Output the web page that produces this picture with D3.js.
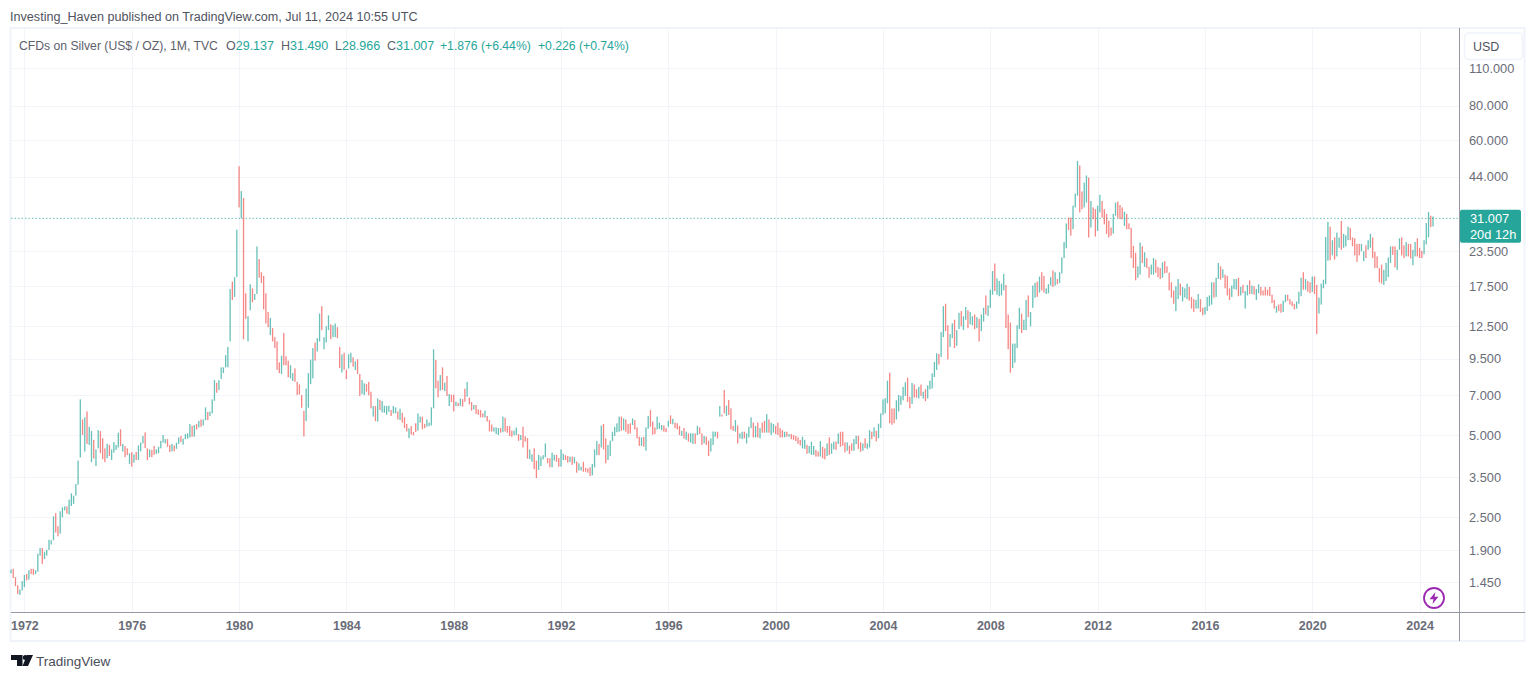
<!DOCTYPE html>
<html><head><meta charset="utf-8"><title>Silver</title>
<script src="https://cdn.jsdelivr.net/npm/d3@7/dist/d3.min.js"></script>
<style>html,body{margin:0;padding:0;background:#fff;overflow:hidden}svg{display:block}text{font-family:"Liberation Sans",Arial,sans-serif}</style>
</head><body><svg id="c" width="1536" height="679"></svg>
<script>
const firstYear = 1971, firstMonth = 6;
const yearTicks = [1972,1976,1980,1984,1988,1992,1996,2000,2004,2008,2012,2016,2020,2024];
const priceTicks = [110,80,60,44,23.5,17.5,12.5,9.5,7,5,3.5,2.5,1.9,1.45];
const lastClose = 31.007;
const highs = [
1.61,1.62,1.51,1.41,1.36,1.46,1.54,1.55,1.60,1.62,1.62,1.60,
1.84,1.93,1.93,1.87,1.90,2.07,2.06,2.52,2.59,2.32,2.63,2.72,
2.74,2.74,2.90,3.06,3.00,3.31,4.03,6.75,5.70,5.80,6.10,5.36,
5.17,4.80,4.43,5.21,5.17,4.86,4.47,4.64,4.60,4.43,4.71,4.60,
5.10,5.25,4.64,4.56,4.47,4.29,4.33,4.25,4.33,4.58,4.69,4.96,
5.11,4.47,4.43,4.41,4.56,4.43,4.53,4.76,5.00,4.83,4.83,4.60,
4.64,4.58,4.69,4.90,4.96,4.85,5.04,5.07,5.49,5.40,5.44,5.49,
5.63,5.70,5.70,6.31,6.07,6.09,6.75,7.94,7.76,7.94,8.84,8.84,
9.80,10.5,17.1,18.2,18.9,28.2,48.1,39.0,36.8,16.5,13.6,17.8,
17.2,16.4,24.5,22.0,19.7,19.1,16.5,14.1,13.4,12.3,11.4,11.0,
9.22,9.75,11.8,9.70,9.35,9.0,8.42,8.76,7.83,7.66,7.0,6.13,
7.40,8.42,9.43,10.4,10.9,11.3,13.9,14.8,11.4,12.5,13.7,12.7,
12.6,12.8,12.4,10.5,9.85,10.0,8.66,9.87,10.0,9.62,9.30,9.46,
8.36,7.95,7.73,7.68,7.82,7.2,6.38,6.38,6.8,6.72,6.66,6.4,
6.38,6.4,6.17,6.38,6.31,6.1,6.24,6.03,5.8,5.49,5.29,5.39,
5.13,5.52,6.0,5.84,5.84,5.49,5.7,5.55,6.31,10.3,9.41,7.9,
8.29,8.84,7.77,8.22,7.06,7.02,7.02,6.62,6.56,6.8,6.76,7.38,
7.82,6.85,6.6,6.44,6.44,6.2,6.17,6.0,6.14,5.87,5.67,5.46,
5.33,5.33,5.3,5.3,5.84,5.78,5.39,5.39,5.19,5.19,5.33,5.04,
5.0,5.36,4.95,4.87,4.43,4.25,4.47,4.03,4.23,4.17,4.22,4.66,
4.12,4.11,4.31,4.23,4.23,4.12,4.43,4.27,4.22,4.19,4.17,4.17,
4.15,4.0,3.94,3.83,3.99,3.79,3.77,3.81,3.92,4.43,4.76,4.64,
5.41,5.49,4.86,4.6,4.77,5.14,5.36,5.52,5.84,5.84,5.75,5.7,
5.49,5.52,5.75,5.67,5.33,4.93,4.9,4.93,5.33,5.87,6.17,5.6,
5.33,5.84,5.55,5.44,5.42,5.3,5.64,5.9,5.73,5.55,5.52,5.4,
5.18,5.3,5.14,5.07,5.07,5.07,5.07,5.4,5.33,5.07,4.96,4.93,
4.77,4.86,5.15,5.14,5.14,6.38,5.94,7.3,6.4,6.71,6.26,5.4,
5.67,5.42,5.07,5.14,5.14,5.07,5.36,5.8,5.55,5.4,5.55,5.3,
5.55,5.63,5.96,5.7,5.55,5.49,5.4,5.55,5.3,5.21,5.14,5.14,
5.04,5.04,5.0,4.96,4.9,4.8,4.93,4.8,4.6,4.56,4.73,4.56,
4.41,4.35,4.75,4.53,4.47,4.66,4.9,4.66,4.73,4.73,5.07,5.14,
5.14,4.7,4.7,4.57,4.66,4.83,4.97,4.97,4.7,4.66,4.86,4.66,
5.21,5.14,5.33,5.18,5.5,6.0,6.75,6.82,7.9,8.45,6.25,6.26,
6.7,7.0,6.95,7.5,7.8,8.1,6.9,7.75,7.65,7.35,7.5,7.65,
7.2,7.35,7.6,7.9,8.4,9.25,9.95,9.9,11.9,14.8,15.1,12.6,
11.7,12.8,13.2,12.1,14.0,14.2,13.6,14.7,14.3,14.1,13.6,13.8,
13.5,13.3,13.8,14.6,16.2,14.9,17.0,19.9,21.2,18.7,18.3,17.9,
19.4,17.7,13.8,12.9,10.8,10.8,12.6,14.6,13.9,13.2,15.6,16.2,
14.1,17.6,18.0,18.2,19.0,19.7,19.1,17.2,17.8,18.9,20.0,19.7,
18.6,19.7,22.3,25.4,29.7,31.2,31.2,34.5,38.2,50.3,48.4,38.9,
41.9,44.5,43.7,35.9,34.0,33.5,34.5,37.8,35.9,33.5,32.2,30.4,
28.7,32.2,35.4,35.7,34.7,34.0,32.8,32.2,29.7,28.6,24.6,23.2,
20.7,25.3,24.5,23.3,22.2,20.6,21.0,22.2,21.9,20.6,20.4,21.4,
21.6,20.7,19.6,18.1,16.9,17.5,18.6,17.9,17.4,17.2,17.9,17.4,
16.0,15.7,15.6,16.4,15.7,14.6,14.7,16.0,16.2,18.1,18.1,18.8,
21.3,20.7,20.2,19.3,19.1,17.2,17.6,18.6,18.6,18.8,17.4,17.7,
16.8,17.7,18.4,17.6,17.5,17.1,17.8,17.4,16.9,17.4,17.0,17.4,
16.3,15.6,14.8,15.0,15.1,15.5,16.3,16.3,15.7,15.4,15.1,15.4,
16.7,18.8,19.7,18.6,18.3,18.1,19.0,19.0,17.7,15.9,17.9,18.5,
26.5,30.1,28.9,25.8,26.4,27.5,26.4,30.3,27.2,26.9,28.9,28.6,
26.4,26.2,25.0,25.0,25.0,23.5,24.7,25.8,27.2,26.4,23.4,22.5,
20.4,21.0,20.1,21.3,22.3,24.5,24.5,24.5,23.8,26.2,26.4,24.7,
25.4,25.0,25.0,23.8,25.4,26.2,24.2,23.6,25.8,29.8,32.7,31.7,31.49];
const lows = [
1.56,1.50,1.40,1.31,1.30,1.35,1.39,1.47,1.48,1.55,1.54,1.55,
1.58,1.81,1.69,1.76,1.81,1.90,1.99,2.06,2.20,2.13,2.18,2.50,
2.65,2.58,2.56,2.75,2.80,3.00,3.29,4.14,5.00,4.35,4.64,4.60,
3.98,4.10,3.85,4.47,4.29,4.08,3.98,4.11,4.19,4.05,4.31,4.41,
4.50,4.56,4.35,4.15,4.22,3.92,3.83,3.96,4.05,4.05,4.36,4.66,
4.48,4.05,4.15,4.15,4.23,4.27,4.29,4.47,4.69,4.66,4.53,4.33,
4.36,4.36,4.45,4.64,4.71,4.61,4.83,4.85,4.90,4.93,4.93,5.24,
5.33,5.36,5.42,5.67,5.67,5.87,6.00,6.67,7.14,7.30,8.01,8.42,
8.84,8.84,11.0,15.6,16.0,18.9,34.0,31.0,11.2,13.3,11.0,14.3,
15.3,15.6,16.4,18.8,18.0,14.4,12.8,12.4,11.6,11.0,10.4,8.66,
8.42,8.35,9.0,9.0,8.13,8.06,7.88,7.83,7.0,7.04,6.29,4.94,
5.62,6.29,7.68,8.06,9.35,10.1,11.0,12.1,10.3,10.9,12.1,11.2,
11.4,11.4,11.3,8.8,8.47,8.66,8.01,8.76,9.2,8.89,8.65,8.36,
6.95,7.06,7.0,7.2,6.98,6.26,5.84,5.62,5.6,6.17,6.05,6.03,
5.93,6.08,5.87,6.0,6.0,5.7,5.67,5.55,5.3,5.15,4.87,5.02,
4.99,5.13,5.19,5.55,5.25,5.3,5.36,5.39,5.42,6.26,7.41,6.87,
7.27,7.31,7.23,6.95,6.38,6.6,6.1,6.38,6.38,6.38,6.35,6.62,
6.91,6.47,6.14,6.2,5.97,5.93,5.8,5.8,5.8,5.6,5.15,5.15,
5.15,5.04,5.0,5.1,5.13,5.15,5.1,4.96,4.93,4.99,5.0,4.76,
4.79,4.5,4.73,4.1,4.08,3.99,3.75,3.48,3.73,3.85,4.07,4.15,
3.94,3.81,3.81,4.03,3.99,3.83,3.83,4.05,4.05,3.96,3.98,3.89,
3.94,3.64,3.71,3.71,3.67,3.67,3.64,3.54,3.56,3.81,4.22,4.22,
4.5,4.43,3.94,4.05,4.19,4.75,4.96,5.12,5.14,5.18,5.21,5.14,
5.04,5.07,5.44,5.24,4.86,4.56,4.56,4.53,4.38,5.27,5.36,5.01,
5.04,5.24,5.27,5.21,5.14,5.12,5.36,5.49,5.47,5.3,5.24,5.0,
4.96,4.85,4.8,4.73,4.69,4.64,4.64,5.0,5.04,4.6,4.66,4.6,
4.19,4.35,4.6,4.93,4.86,5.84,5.84,6.0,5.87,5.92,5.24,5.18,
5.14,4.66,4.86,4.83,4.86,4.66,4.9,5.3,4.9,4.9,4.9,4.86,
5.1,5.1,5.1,5.1,5.0,5.1,5.04,5.0,4.9,4.9,4.9,4.93,
4.93,4.83,4.8,4.75,4.64,4.58,4.47,4.45,4.27,4.29,4.23,4.23,
4.17,4.17,4.17,4.11,4.07,4.19,4.23,4.27,4.43,4.41,4.64,4.53,
4.57,4.32,4.38,4.26,4.38,4.38,4.63,4.45,4.34,4.38,4.48,4.45,
4.5,4.83,4.93,4.74,4.87,5.3,5.93,6.0,6.53,5.52,5.45,5.52,
5.7,6.1,6.45,6.7,6.95,6.6,6.26,6.5,6.85,6.85,6.8,6.95,
6.8,6.65,6.8,7.35,7.4,8.15,8.65,9.05,9.65,11.4,12.0,9.45,
10.5,11.3,10.4,10.6,12.2,12.5,12.1,13.2,12.3,12.7,12.6,12.2,
12.3,11.0,12.0,13.0,13.8,13.6,14.6,16.3,16.8,16.3,16.1,16.2,
16.9,12.3,10.3,8.45,8.8,9.2,10.4,12.2,11.8,12.1,12.1,13.5,
12.5,14.6,15.9,16.0,16.6,16.9,16.6,16.4,16.5,17.6,17.4,17.6,
17.8,18.0,19.5,22.2,24.1,28.1,26.8,28.3,34.0,37.5,32.6,33.5,
34.0,35.4,26.4,28.7,30.8,26.6,27.9,32.6,31.2,29.5,27.2,26.4,
26.8,27.3,31.7,31.2,30.8,30.8,29.1,28.3,28.3,22.2,20.4,18.4,
18.8,19.3,21.3,20.6,20.4,18.8,19.3,19.3,19.6,18.9,18.6,18.8,
19.5,19.6,16.9,15.9,15.1,14.2,15.7,16.2,15.4,15.9,15.7,15.5,
14.5,14.1,14.5,14.5,14.1,13.7,13.8,14.2,14.8,15.0,15.9,16.0,
18.6,18.5,18.8,17.2,16.2,15.6,16.0,17.1,17.0,16.1,16.2,16.5,
14.5,16.2,16.4,16.4,16.3,15.6,16.5,16.2,16.2,16.2,16.2,16.1,
15.2,14.5,14.0,14.2,14.0,14.1,15.3,15.5,15.0,14.8,14.4,14.5,
15.1,16.1,17.0,17.0,16.7,16.5,16.7,16.4,11.7,13.9,15.0,17.2,
17.8,21.7,21.8,22.7,21.9,22.5,24.2,23.8,24.2,24.5,25.8,25.8,
24.5,22.7,21.5,22.7,23.5,21.6,22.2,23.8,24.2,22.2,20.4,20.4,
18.1,17.9,17.7,18.3,18.9,21.3,22.8,20.5,20.1,23.8,22.7,22.2,
22.5,22.5,22.1,20.9,22.5,22.5,22.2,22.2,22.9,24.9,26.4,28.8,28.966];
const directions = [
"UDDDUUUDUDDU","UUDUUUUUDDUU","UDUUUUUUDUDU","UDUUDDDUDUUU","UDUDDUDUDUUU","DDUDDUUUUUDD",
"UDUUDUUUUDUD","UDUUDUUUDUUU","UUUDUUDUDDUU","DUUDDDDDUDDD","DUDDDUUDDDDD","UUUUDUUDUUUD",
"UUDDUDDUUDUD","DUUDDDUDUDUU","UUDUUDUDDDUD","DDUUDDUUUUDD","UDUDUDDUDUDD","UDDUDDDDUDDD",
"UUUDUDDDDUUD","UDDDUUDDUUUU","DDUUDDUUDDUD","UDUUDDDDUUUD","UDDUUUUUUDUD","DDUDDDUDUUDD",
"DUUUDDUDUDDD","UDUDUUDUDDUD","DUUUDUDDUDDD","UDUUDUUUDUDU","DDUDUUDDDDUD","UDDDDDUUDUUU",
"DDUDDUDUUDUD","DDUDDUUDDUDU","UDUDUUUUUDDD","UUUUUDDUDDUD","UDUUUUUDUUDD","UUDUUDUUDUUD",
"UDUUDUUUDUUU","UDDDUUUUDUUD","UUUDUDDUUUDU","DUUUUDDUUUDD","UUDUDDUUDDDD","DUUDDDUDDDDD",
"UUDUDDUUDDDU","DDDDDUUDUUUD","DDUUDDUUUUDU","UDUDDDUUUDUD","UUDUDUUDDDDD","DDUDDUUDDDDU",
"UUDUDDUDDUUU","UUDUDUUDUUUD","DDDDUUDUUDDD","DDUUUUDDUUDD","UDDUUDDDUUUDU"
].join("");

const up = "#26a69a", down = "#ef5350", grid = "#f2f4fa", axisC = "#9598a1", txt = "#6a6d78";
const svg = d3.select("#c");
const monthIndex = y => (y - firstYear) * 12 - firstMonth;
const x = d3.scaleLinear().domain([0, highs.length - 1]).range([11, 1433]);
const y = d3.scaleLog().domain([110, 1.45]).range([68, 582]);
const L = 11, R = 1460, T = 28, B = 612, OR = 1525, OB = 641;

svg.append("rect").attr("x",L-0.5).attr("y",T).attr("width",OR-L).attr("height",OB-T).attr("fill","#fff").attr("stroke","#f0f3fa").attr("stroke-width",2);

// grid
svg.append("g").selectAll("line").data(priceTicks).join("line")
  .attr("x1",L).attr("x2",R).attr("y1",d=>Math.round(y(d))+.5).attr("y2",d=>Math.round(y(d))+.5).attr("stroke",grid);
svg.append("g").selectAll("line").data(yearTicks).join("line")
  .attr("y1",T).attr("y2",B).attr("x1",d=>Math.round(x(monthIndex(d)))+.5).attr("x2",d=>Math.round(x(monthIndex(d)))+.5).attr("stroke",grid);

// last price line
svg.append("line").attr("x1",L).attr("x2",R).attr("y1",y(lastClose)).attr("y2",y(lastClose))
  .attr("stroke",up).attr("stroke-opacity",.7).attr("stroke-dasharray","1.5 2");

// bars
svg.append("g").selectAll("rect").data(d3.range(highs.length)).join("rect")
  .attr("x",i=>x(i)-.65).attr("width",1.3)
  .attr("y",i=>y(highs[i])).attr("height",i=>y(lows[i])-y(highs[i]))
  .attr("fill",i=>directions[i]==="U"?up:down).attr("fill-opacity",.7);

// axes frame lines
svg.append("line").attr("x1",L).attr("x2",OR).attr("y1",B+.5).attr("y2",B+.5).attr("stroke",axisC);
svg.append("line").attr("x1",R-.5).attr("x2",R-.5).attr("y1",T).attr("y2",OB).attr("stroke",axisC);

// y axis
const yAxis = d3.axisRight(y).tickValues(priceTicks).tickSize(0).tickPadding(9).tickFormat(d3.format(".3f"));
const gy = svg.append("g").attr("transform",`translate(${R},0)`).call(yAxis);
gy.select(".domain").remove();
gy.selectAll("text").attr("font-size",12.8).attr("fill",txt).style("font-family",'"Liberation Sans"');

// x axis
const xAxis = d3.axisBottom(x).tickValues(yearTicks.map(monthIndex)).tickSize(0).tickPadding(9)
  .tickFormat(i => firstYear + (i + firstMonth) / 12);
const gx = svg.append("g").attr("transform",`translate(0,${B})`).call(xAxis);
gx.select(".domain").remove();
gx.selectAll("text").attr("font-size",12.5).attr("font-weight",700).attr("fill","#6a6d78").style("font-family",'"Liberation Sans"');

// price label
const py = y(lastClose);
svg.append("rect").attr("x",R).attr("y",py-8.5).attr("width",61).attr("height",33).attr("rx",2).attr("fill",up);
svg.append("text").attr("x",R+10).attr("y",py+5).attr("font-size",12.8).attr("fill","#fff").text(lastClose.toFixed(3));
svg.append("text").attr("x",R+10).attr("y",py+21).attr("font-size",12.8).attr("fill","#fff").text("20d 12h");

// USD button
svg.append("rect").attr("x",1464.5).attr("y",33).attr("width",58).attr("height",26.5).attr("rx",4).attr("fill","#fff").attr("stroke","#f0f3fa").attr("stroke-width",1.5);
svg.append("text").attr("x",1473).attr("y",50.5).attr("font-size",12.5).attr("fill","#50535e").text("USD");

// header text
svg.append("text").attr("x",10).attr("y",21).attr("font-size",12.62).attr("fill","#50535e").text("Investing_Haven published on TradingView.com, Jul 11, 2024 10:55 UTC");
const legendY = 49.5;
svg.append("text").attr("x",19).attr("y",legendY).attr("font-size",12.2).attr("fill","#5d606b").text("CFDs on Silver (US$ / OZ), 1M, TVC");
const legendPairs = [["O","29.137",226],["H","31.490",281],["L","28.966",335],["C","31.007",387]];
legendPairs.forEach(([k,v,px])=>{
  const t = svg.append("text").attr("x",px).attr("y",legendY).attr("font-size",12.5);
  t.append("tspan").attr("fill","#5d606b").text(k);
  t.append("tspan").attr("fill",up).text(v);
});
svg.append("text").attr("x",440).attr("y",legendY).attr("font-size",12.2).attr("fill",up).text("+1.876 (+6.44%)");
svg.append("text").attr("x",538).attr("y",legendY).attr("font-size",12.2).attr("fill",up).text("+0.226 (+0.74%)");

// lightning badge
const badge = svg.append("g").attr("transform","translate(1434,598)");
badge.append("circle").attr("r",10).attr("fill","#fff").attr("stroke","#9c27b0").attr("stroke-width",1.8);
badge.append("path").attr("d","M1.5-6L-4.5 1.2H-.5L-1.5 6L4.5-1.2H.5Z").attr("fill","#9c27b0");

// logo
const logo = svg.append("g").attr("fill","#131722");
logo.append("path").attr("d","M11 655H22.5V666H17V660H11Z");
logo.append("circle").attr("cx",25.3).attr("cy",657.6).attr("r",2.5);
logo.append("path").attr("d","M27 655H33L28 666H22.5Z");
svg.append("text").attr("x",36).attr("y",665.5).attr("font-size",13.5).attr("fill","#4a4e58").text("TradingView");
</script>
</body></html>
